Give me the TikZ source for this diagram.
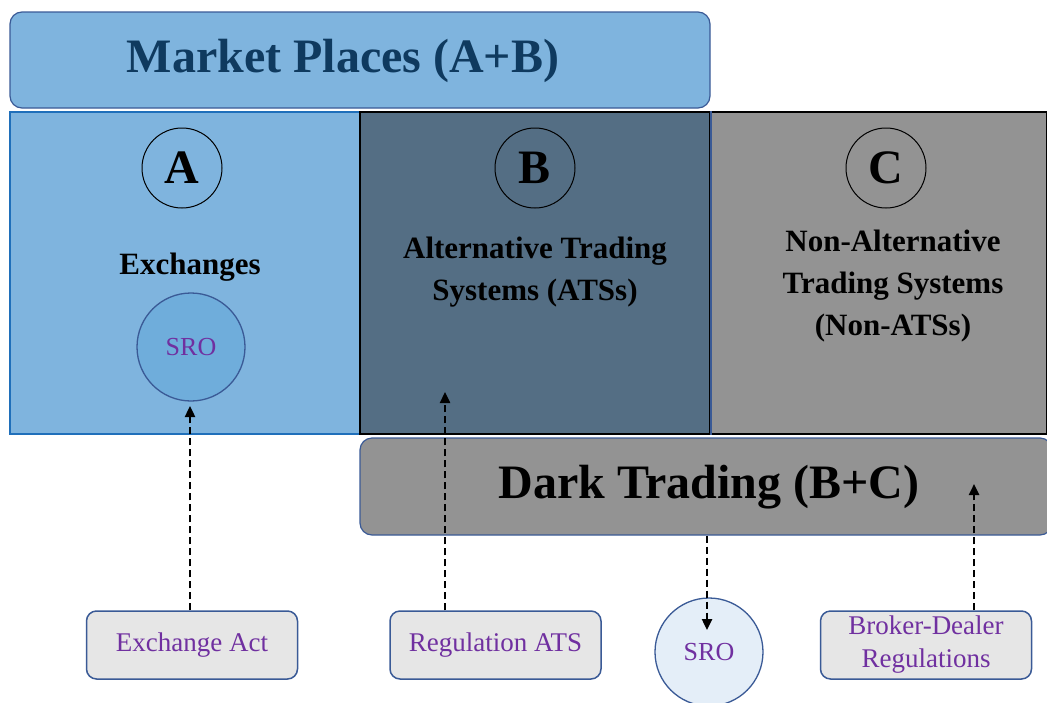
\documentclass[tikz,border=0pt]{standalone}
\usepackage{fontspec}
\setmainfont{Liberation Serif}
\usetikzlibrary{arrows.meta}
\definecolor{mpfill}{HTML}{7FB4DE}
\definecolor{mpedge}{HTML}{3A5A96}
\definecolor{mptext}{HTML}{0F3A5F}
\definecolor{afill}{HTML}{7FB4DE}
\definecolor{aedge}{HTML}{1F6FBA}
\definecolor{bfill}{HTML}{546E84}
\definecolor{cfill}{HTML}{939393}
\definecolor{regfill}{HTML}{E6E6E6}
\definecolor{srofill}{HTML}{6FADDB}
\definecolor{srofillb}{HTML}{E4EEF8}
\definecolor{purp}{HTML}{7030A0}
\tikzset{
  panel/.style={draw, line width=1.6pt, minimum width=#1, minimum height=322pt, inner sep=0pt},
  letter/.style={circle, draw=black, line width=1pt, minimum size=80pt, inner sep=0pt, font=\fontsize{48}{48}\selectfont\bfseries},
  bigtitle/.style={rounded corners=12pt, draw=mpedge, line width=1.2pt, inner sep=0pt},
  titletext/.style={font=\fontsize{48}{54}\selectfont\bfseries},
  regbox/.style={rounded corners=10pt, draw=mpedge, line width=1.5pt, fill=regfill, minimum width=211pt, minimum height=68pt, inner sep=0pt, text=purp, font=\fontsize{27}{33}\selectfont, align=center},
  srocirc/.style={circle, draw=mpedge, line width=1.3pt, minimum size=108pt, inner sep=0pt, text=purp, font=\fontsize{26}{26}\selectfont},
  label/.style={font=\fontsize{31}{42}\selectfont\bfseries, align=center},
  darrow/.style={line width=2.4pt, dash pattern=on 7pt off 4pt, -{Triangle[length=11pt,width=10pt]}}
}
\begin{document}
\begin{tikzpicture}[x=1pt,y=-1pt]
\useasboundingbox (0,0) rectangle (1047,702);
% top title
\node[bigtitle, fill=mpfill, minimum width=700pt, minimum height=96pt] (mp) at (360,60) {};
\node[titletext, text=mptext] (mpt) at (343,61) {Market Places (A+B)};
% panels
\node[panel=350pt, fill=afill, draw=aedge] (pa) at (185,273) {};
\node[panel=350pt, fill=bfill, draw=black] (pb) at (535,273) {};
\node[panel=337pt, fill=cfill, draw=black] (pc) at (878.5,273) {};
\draw[line width=1.6pt, draw=mpedge] (pb.north east) -- (pb.south east);
% letters
\node[letter] (la) at (182,168) {A};
\node[letter] (lb) at (535,168) {B};
\node[letter] (lc) at (886,168) {C};
% labels
\node[label] (exch) at (190,267) {Exchanges};
\node[label] (ats) at (535,272) {Alternative Trading\\Systems (ATSs)};
\node[label] (nats) at (893,286) {Non-Alternative\\Trading Systems\\(Non-ATSs)};
\node[srocirc, fill=srofill] (sroa) at (191,347) {SRO};
% dark trading
\node[bigtitle, fill=cfill, minimum width=692pt, minimum height=97pt] (dark) at (706,486.5) {};
\node[titletext] (darkt) at (709,487) {Dark Trading (B+C)};
% bottom regulation boxes
\node[regbox] (exact) at (192,645) {Exchange Act};
\node[regbox] (regats) at (495.5,645) {Regulation ATS};
\node[srocirc, fill=srofillb] (srob) at (709,652) {SRO};
\node[regbox] (bdreg) at (926,645) {Broker-Dealer\\Regulations};
% arrow free ends
\coordinate (ea) at (190,406);
\coordinate (ra) at (445,392);
\coordinate (sa) at (707,630);
\coordinate (ba) at (974,484);
\draw[darrow] (exact.north -| ea) -- (ea);
\draw[darrow] (regats.north -| ra) -- (ra);
\draw[darrow] (dark.south -| sa) -- (sa);
\draw[darrow] (bdreg.north -| ba) -- (ba);
\end{tikzpicture}
\end{document}
